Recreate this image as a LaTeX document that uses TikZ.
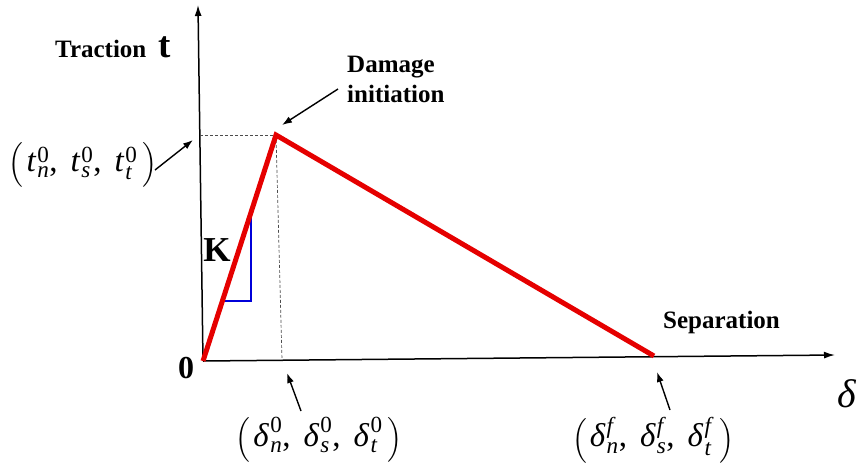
\documentclass[tikz,border=0pt]{standalone}
\usepackage{amsmath}
\usepackage{fontspec}
\setmainfont{Liberation Serif}
\usetikzlibrary{arrows.meta}
\newcommand{\myit}[1]{\textit{#1}}
\newcommand{\myel}[3]{{\myit{#1}\hspace{1.5pt}}^{\text{#2}}_{\myit{#3}}}
\newcommand{\trip}[2]{\Bigl(\hspace{3pt}\myel{#1}{#2}{n}\text{,}\hspace{13pt}\myel{#1}{#2}{s}\text{,}\hspace{13pt}\myel{#1}{#2}{t}\hspace{5pt}\Bigr)}
\begin{document}
\begin{tikzpicture}[x=1pt,y=-1pt,
  axis/.style={line width=1.5pt,-{Latex[length=11pt,width=7pt]}},
  pointer/.style={line width=1.4pt,-{Latex[length=10pt,width=7pt]}},
  guide/.style={line width=0.7pt,black!70,dash pattern=on 3pt off 2pt},
  curve/.style={line width=5pt,red!90!black,line join=miter},
  slope/.style={line width=2.8pt,blue!85!black},
  lab/.style={font=\fontsize{25}{30}\selectfont\bfseries,inner sep=0pt},
  mathlab/.style={font=\fontsize{33}{34}\selectfont,inner sep=0pt}]
\useasboundingbox (0,0) rectangle (860,467);
% key points
\coordinate (O) at (203,361);
\coordinate (ytip) at (198,5);
\coordinate (xtip) at (835,355);
\coordinate (P) at (276,135);
\coordinate (F) at (654,356);
\coordinate (Py) at (200,135);
\coordinate (Px) at (282,360);
% axes
\draw[axis] (O) -- (ytip);
\draw[axis] (O) -- (xtip);
% guides
\draw[guide] (Py) -- (P);
\draw[guide] (P) -- (Px);
% slope triangle
\coordinate (K1) at (251,210);
\coordinate (K2) at (251,301);
\coordinate (K3) at (222,301);
\draw[slope] (K1) -- (K2) -- (K3);
% curve
\draw[curve] (O) -- (P) -- (F);
% labels
\node[lab,anchor=base west] (trac) at (55,57) {Traction\hspace{12pt}{\fontsize{37}{37}\selectfont t}};
\node[lab,anchor=north west,align=left] (dmg) at (347,56) {Damage\\initiation};
\node[lab,anchor=base west] (sep) at (663,328) {Separation};
\node[font=\fontsize{35}{35}\selectfont\bfseries,inner sep=0pt] (K) at (217,250) {K};
\node[font=\fontsize{32}{32}\selectfont\bfseries,inner sep=0pt] (zero) at (186,368) {0};
\node[font=\fontsize{40}{40}\selectfont\itshape,inner sep=0pt] (delta) at (847,394) {δ};
\node[mathlab] (tl) at (83,165) {$\trip{t}{0}$};
\node[mathlab] (d0) at (319,440) {$\trip{δ}{0}$};
\node[mathlab] (df) at (653,440) {$\trip{δ}{\myit{f}}$};
% pointers
\coordinate (tA) at (155,170);
\coordinate (tB) at (193,140);
\draw[pointer] (tA) -- (tB);
\coordinate (dA) at (338,89);
\coordinate (dB) at (282,125);
\draw[pointer] (dA) -- (dB);
\coordinate (aA) at (301,411);
\coordinate (aB) at (287,373);
\draw[pointer] (aA) -- (aB);
\coordinate (bA) at (670,410);
\coordinate (bB) at (657,372);
\draw[pointer] (bA) -- (bB);
\end{tikzpicture}
\end{document}
